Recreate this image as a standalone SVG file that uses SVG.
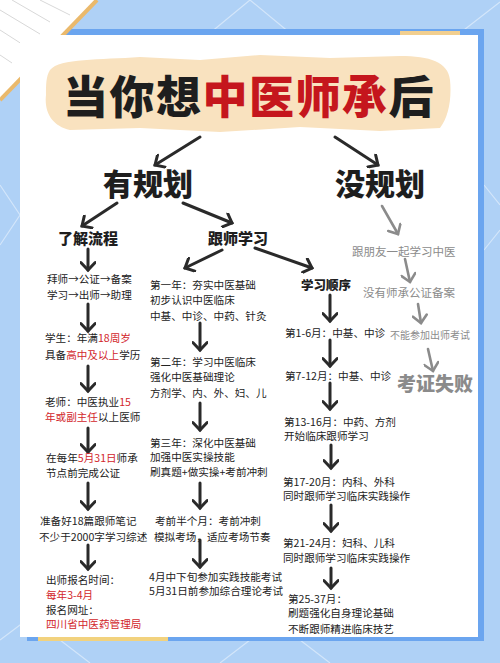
<svg xmlns="http://www.w3.org/2000/svg" width="500" height="663" viewBox="0 0 500 663">
<style>
.t{font-family:"Noto Sans CJK SC","Noto Sans",sans-serif;font-size:10.6px;fill:#222}
.r{fill:#d2262b}
.g{font-family:"Noto Sans CJK SC","Noto Sans",sans-serif;fill:#8b8b8b}
.h{font-family:"Noto Sans CJK SC","Noto Sans",sans-serif;font-weight:900;fill:#1e1e1e;text-anchor:middle}
.a{fill:none;stroke:#2a2a2a;stroke-width:3;stroke-linecap:round}
.ag{fill:none;stroke:#8b8b8b;stroke-width:2.6;stroke-linecap:round}
.bl{stroke:#ffffff;stroke-opacity:0.45;stroke-width:1.2;fill:none}
.pl{stroke:#d8d8d8;stroke-width:1;fill:none}
</style>
<defs>
<marker id="ah" markerUnits="userSpaceOnUse" viewBox="0 0 16 16" markerWidth="16" markerHeight="16" refX="13.5" refY="8" orient="auto">
<path d="M6,0.8 L13.5,8 L6,15.2" fill="none" stroke="#2a2a2a" stroke-width="3" stroke-linecap="round" stroke-linejoin="miter"/>
</marker>
<marker id="ahg" markerUnits="userSpaceOnUse" viewBox="0 0 16 16" markerWidth="16" markerHeight="16" refX="13.5" refY="8" orient="auto">
<path d="M6,1 L13.5,8 L6,15" fill="none" stroke="#8b8b8b" stroke-width="2.6" stroke-linecap="round"/>
</marker>
</defs>

<g id="background">
<rect x="0" y="0" width="500" height="663" fill="#afd1f6"/>
<path class="bl" d="M210,33 L250,0 L290,33 M460,33 L500,2 M0,185 L20,215 L0,245 M484,185 L500,205 M484,250 L500,230 M0,640 L40,610 M60,640 L90,663 M250,640 L220,663 M300,640 L330,663"/>
<rect x="27" y="29" width="457" height="612" fill="#6ba5ef"/>
<rect x="400" y="31" width="60" height="5" fill="#f2cf8f"/>
<rect x="38" y="636" width="130" height="5" fill="#f2d27e"/>
<polygon points="0,0 97,0 0,100" fill="#ffffff"/>
<path class="pl" d="M12,0 L50,22 M0,10 L40,34 M0,30 L25,46 M0,55 L12,63 M40,0 L70,15"/>
<line x1="97" y1="0" x2="0" y2="100" stroke="#eab96c" stroke-width="4"/>
<rect x="20" y="35" width="458" height="602" fill="#ffffff"/>
</g>

<g id="title">
<path d="M50,70 C60,58 100,60 140,57 L200,60 L260,55 L330,58 L400,56 C430,56 448,62 450,80 C452,100 448,118 440,128 L380,131 L300,127 L220,132 L140,128 L70,130 C52,126 44,112 46,95 C46,85 46,76 50,70 Z" fill="#f9e2bf"/>
<text x="249" y="114" class="h" style="font-size:45px;letter-spacing:1.5px">当你想<tspan fill="#c5161d">中医师承</tspan>后</text>
</g>

<g id="connectors">
<line class="a" x1="200" y1="137" x2="155" y2="165" marker-end="url(#ah)"/>
<line class="a" x1="335" y1="137" x2="378" y2="165" marker-end="url(#ah)"/>
<line class="a" x1="117" y1="203" x2="82" y2="226" marker-end="url(#ah)"/>
<line class="a" x1="183" y1="203" x2="232" y2="223" marker-end="url(#ah)"/>
<line class="a" x1="222" y1="250" x2="185" y2="268" marker-end="url(#ah)"/>
<line class="a" x1="255" y1="248" x2="312" y2="268" marker-end="url(#ah)"/>
<line class="a" x1="88" y1="249" x2="88" y2="270" marker-end="url(#ah)"/>
<line class="a" x1="88" y1="304" x2="88" y2="331" marker-end="url(#ah)"/>
<line class="a" x1="88" y1="366" x2="88" y2="391" marker-end="url(#ah)"/>
<line class="a" x1="88" y1="428" x2="88" y2="452" marker-end="url(#ah)"/>
<line class="a" x1="88" y1="483" x2="88" y2="509" marker-end="url(#ah)"/>
<line class="a" x1="88" y1="545" x2="88" y2="569" marker-end="url(#ah)"/>
<line class="a" x1="200" y1="323" x2="200" y2="350" marker-end="url(#ah)"/>
<line class="a" x1="200" y1="403" x2="200" y2="430" marker-end="url(#ah)"/>
<line class="a" x1="200" y1="483" x2="200" y2="508" marker-end="url(#ah)"/>
<line class="a" x1="200" y1="540" x2="200" y2="567" marker-end="url(#ah)"/>
<line class="a" x1="330" y1="295" x2="330" y2="321" marker-end="url(#ah)"/>
<line class="a" x1="330" y1="340" x2="330" y2="366" marker-end="url(#ah)"/>
<line class="a" x1="330" y1="383" x2="330" y2="409" marker-end="url(#ah)"/>
<line class="a" x1="331" y1="445" x2="331" y2="468" marker-end="url(#ah)"/>
<line class="a" x1="331" y1="505" x2="331" y2="531" marker-end="url(#ah)"/>
<line class="a" x1="331" y1="568" x2="331" y2="588" marker-end="url(#ah)"/>
<line class="ag" x1="382" y1="206" x2="398" y2="234" marker-end="url(#ahg)"/>
<line class="ag" x1="405" y1="259" x2="410" y2="282" marker-end="url(#ahg)"/>
<line class="ag" x1="418" y1="304" x2="421" y2="323" marker-end="url(#ahg)"/>
<line class="ag" x1="428" y1="349" x2="433" y2="371" marker-end="url(#ahg)"/>
</g>

<g id="you-guihua"><text x="148" y="195" class="h" style="font-size:30px">有规划</text></g>
<g id="mei-guihua"><text x="380" y="195" class="h" style="font-size:30px">没规划</text></g>
<g id="liaojie-liucheng"><text x="88" y="244" class="h" style="font-size:15px">了解流程</text></g>
<g id="genshi-xuexi"><text x="238" y="243.5" class="h" style="font-size:15px">跟师学习</text></g>
<g id="xuexi-shunxu"><text x="326" y="290" class="h" style="font-size:12.5px">学习顺序</text></g>

<g id="left-1"><text class="t" x="47" y="283">拜师→公证→备案</text><text class="t" x="47" y="299">学习→出师→助理</text></g>
<g id="left-2"><text class="t" x="45" y="342">学生：年满<tspan class="r">18周岁</tspan></text><text class="t" x="45" y="359">具备<tspan class="r">高中及以上</tspan>学历</text></g>
<g id="left-3"><text class="t" x="45" y="406">老师：中医执业<tspan class="r">15</tspan></text><text class="t" x="45" y="421"><tspan class="r">年或副主任</tspan>以上医师</text></g>
<g id="left-4"><text class="t" x="46" y="462">在每年<tspan class="r">5月31日</tspan>师承</text><text class="t" x="46" y="477">节点前完成公证</text></g>
<g id="left-5"><text class="t" x="40" y="525">准备好18篇跟师笔记</text><text class="t" x="39" y="541">不少于2000字学习综述</text></g>
<g id="left-6"><text class="t" x="46" y="584">出师报名时间：</text><text class="t r" x="46" y="599">每年3-4月</text><text class="t" x="46" y="614">报名网址：</text><text class="t r" x="46" y="628">四川省中医药管理局</text></g>

<g id="mid-1"><text class="t" x="150" y="289">第一年：夯实中医基础</text><text class="t" x="150" y="304">初步认识中医临床</text><text class="t" x="150" y="320">中基、中诊、中药、针灸</text></g>
<g id="mid-2"><text class="t" x="150" y="366">第二年：学习中医临床</text><text class="t" x="150" y="381">强化中医基础理论</text><text class="t" x="150" y="397">方剂学、内、外、妇、儿</text></g>
<g id="mid-3"><text class="t" x="150" y="447">第三年：深化中医基础</text><text class="t" x="150" y="461">加强中医实操技能</text><text class="t" x="150" y="476">刷真题+做实操+考前冲刺</text></g>
<g id="mid-4"><text class="t" x="155" y="525">考前半个月：考前冲刺</text><text class="t" x="154" y="541">模拟考场，适应考场节奏</text></g>
<g id="mid-5"><text class="t" x="149" y="581">4月中下旬参加实践技能考试</text><text class="t" x="149" y="595">5月31日前参加综合理论考试</text></g>

<g id="right-1"><text class="t" x="285" y="337">第1-6月：中基、中诊</text></g>
<g id="right-2"><text class="t" x="285" y="380">第7-12月：中基、中诊</text></g>
<g id="right-3"><text class="t" x="284" y="426">第13-16月：中药、方剂</text><text class="t" x="284" y="440">开始临床跟师学习</text></g>
<g id="right-4"><text class="t" x="283" y="486">第17-20月：内科、外科</text><text class="t" x="283" y="500">同时跟师学习临床实践操作</text></g>
<g id="right-5"><text class="t" x="283" y="547">第21-24月：妇科、儿科</text><text class="t" x="283" y="562">同时跟师学习临床实践操作</text></g>
<g id="right-6"><text class="t" x="288" y="603">第25-37月：</text><text class="t" x="288" y="617">刷题强化自身理论基础</text><text class="t" x="288" y="633">不断跟师精进临床技艺</text></g>

<g id="gray-1"><text class="g" x="352" y="256" style="font-size:11.5px">跟朋友一起学习中医</text></g>
<g id="gray-2"><text class="g" x="363" y="297" style="font-size:11.5px">没有师承公证备案</text></g>
<g id="gray-3"><text class="g" x="390" y="338.5" style="font-size:10px">不能参加出师考试</text></g>
<g id="gray-4"><text class="g" x="397" y="391" style="font-size:19px;font-weight:900">考证失败</text></g>
</svg>
